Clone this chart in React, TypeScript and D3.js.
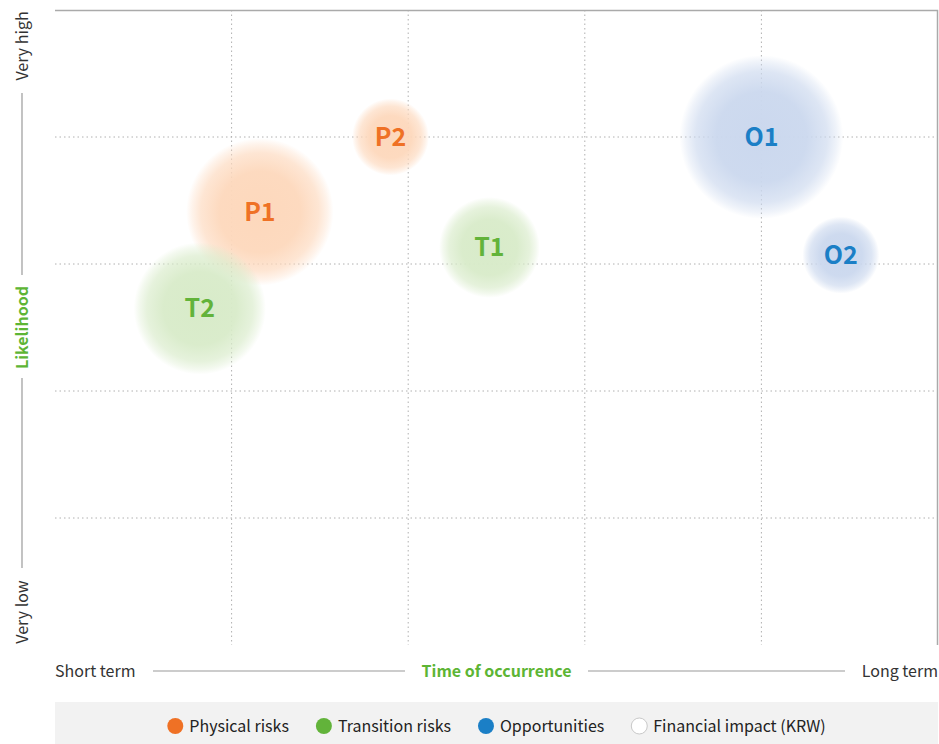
import React, { useEffect, useRef } from 'react'
import * as d3 from 'd3'

// Bubble data: position on the 0..5 grid, financial impact drives the radius
const names = ['P1', 'P2', 'T1', 'T2', 'O1', 'O2']
const groups = ['physical', 'physical', 'transition', 'transition', 'opportunity', 'opportunity']
const timeValues = [1.16, 1.9, 2.46, 0.82, 4.0, 4.45]
const likelihoodValues = [3.41, 4.0, 3.13, 2.65, 4.0, 3.07]
const impactValues = [77, 21, 36, 62, 95, 21]

const legendLabels = ['Physical risks', 'Transition risks', 'Opportunities', 'Financial impact (KRW)']
const gridTicks = [1, 2, 3, 4]

const palette: Record<string, { label: string; fill: string }> = {
  physical: { label: '#ef7125', fill: '#fdd8bc' },
  transition: { label: '#62b33a', fill: '#d8ebc9' },
  opportunity: { label: '#1b7fc6', fill: '#cbd8ee' },
}

const FONT = '"Noto Sans CJK KR", "Noto Sans", sans-serif'

export default function App() {
  const svgRef = useRef<SVGSVGElement>(null)

  useEffect(() => {
    if (!svgRef.current) return
    const width = 939
    const height = 744
    const plot = { left: 55, right: 938, top: 10, bottom: 645 }

    const x = d3.scaleLinear().domain([0, 5]).range([plot.left, plot.right])
    const y = d3.scaleLinear().domain([0, 5]).range([plot.bottom, plot.top])
    const r = d3.scaleSqrt().domain([0, 100]).range([0, 84])

    const svg = d3.select(svgRef.current)
      .attr('width', width)
      .attr('height', height)
      .style('font-family', FONT)
    svg.selectAll('*').remove()

    // gradients for the soft bubbles
    const defs = svg.append('defs')
    Object.entries(palette).forEach(([key, c]) => {
      const g = defs.append('radialGradient').attr('id', `grad-${key}`)
      g.append('stop').attr('offset', '0%').attr('stop-color', c.fill).attr('stop-opacity', 1)
      g.append('stop').attr('offset', '55%').attr('stop-color', c.fill).attr('stop-opacity', 0.95)
      g.append('stop').attr('offset', '80%').attr('stop-color', c.fill).attr('stop-opacity', 0.65)
      g.append('stop').attr('offset', '92%').attr('stop-color', c.fill).attr('stop-opacity', 0.3)
      g.append('stop').attr('offset', '100%').attr('stop-color', c.fill).attr('stop-opacity', 0)
    })

    // dotted grid
    svg.append('g').selectAll('line')
      .data(gridTicks).enter().append('line')
      .attr('x1', d => x(d)).attr('x2', d => x(d))
      .attr('y1', plot.top).attr('y2', plot.bottom)
      .attr('stroke', '#b0b0b0').attr('stroke-width', 1).attr('stroke-dasharray', '1.5,3')
    svg.append('g').selectAll('line')
      .data(gridTicks).enter().append('line')
      .attr('x1', plot.left).attr('x2', plot.right)
      .attr('y1', d => y(d)).attr('y2', d => y(d))
      .attr('stroke', '#b0b0b0').attr('stroke-width', 1).attr('stroke-dasharray', '1.5,3')

    // frame (top + right)
    svg.append('path')
      .attr('d', `M${plot.left},${plot.top + 0.5}H${plot.right - 0.5}V${plot.bottom}`)
      .attr('fill', 'none').attr('stroke', '#aaaaaa').attr('stroke-width', 1.5)

    // bubbles
    const bubbles = svg.append('g').selectAll('g')
      .data(names.map((n, i) => ({ name: n, group: groups[i], t: timeValues[i], l: likelihoodValues[i], v: impactValues[i] })))
      .enter().append('g')
      .attr('transform', d => `translate(${x(d.t)},${y(d.l)})`)
    bubbles.append('circle')
      .attr('r', d => r(d.v))
      .attr('fill', d => `url(#grad-${d.group})`)
    bubbles.append('text')
      .attr('text-anchor', 'middle')
      .attr('dy', '0.35em')
      .attr('fill', d => palette[d.group].label)
      .style('font-size', '25px')
      .style('font-weight', '700')
      .text(d => d.name)

    // y axis annotation
    const ax = 22
    const vAxis = svg.append('g')
    vAxis.append('text')
      .attr('transform', `translate(${ax + 6},${plot.top + 36}) rotate(-90)`)
      .attr('text-anchor', 'middle')
      .attr('fill', '#333').style('font-size', '16px')
      .text('Very high')
    vAxis.append('text')
      .attr('transform', `translate(${ax + 6},${(plot.top + plot.bottom) / 2}) rotate(-90)`)
      .attr('text-anchor', 'middle')
      .attr('fill', '#5db535').style('font-size', '16px').style('font-weight', '700')
      .text('Likelihood')
    vAxis.append('text')
      .attr('transform', `translate(${ax + 6},${plot.bottom - 33}) rotate(-90)`)
      .attr('text-anchor', 'middle')
      .attr('fill', '#333').style('font-size', '16px')
      .text('Very low')
    vAxis.append('line').attr('x1', ax).attr('x2', ax).attr('y1', 93).attr('y2', 275)
      .attr('stroke', '#9a9a9a').attr('stroke-width', 1.2)
    vAxis.append('line').attr('x1', ax).attr('x2', ax).attr('y1', 378).attr('y2', 568)
      .attr('stroke', '#9a9a9a').attr('stroke-width', 1.2)

    // x axis annotation
    const ay = 671
    const hAxis = svg.append('g')
    hAxis.append('text')
      .attr('x', plot.left).attr('y', ay).attr('dy', '0.35em')
      .attr('fill', '#333').style('font-size', '16px')
      .text('Short term')
    hAxis.append('text')
      .attr('x', (plot.left + plot.right) / 2).attr('y', ay).attr('dy', '0.35em')
      .attr('text-anchor', 'middle')
      .attr('fill', '#5db535').style('font-size', '16px').style('font-weight', '700')
      .text('Time of occurrence')
    hAxis.append('text')
      .attr('x', plot.right).attr('y', ay).attr('dy', '0.35em')
      .attr('text-anchor', 'end')
      .attr('fill', '#333').style('font-size', '16px')
      .text('Long term')
    hAxis.append('line').attr('x1', 153).attr('x2', 405).attr('y1', ay).attr('y2', ay)
      .attr('stroke', '#9a9a9a').attr('stroke-width', 1.2)
    hAxis.append('line').attr('x1', 588).attr('x2', 845).attr('y1', ay).attr('y2', ay)
      .attr('stroke', '#9a9a9a').attr('stroke-width', 1.2)

    // legend
    const legendY = 726
    svg.append('rect')
      .attr('x', plot.left).attr('y', 702)
      .attr('width', plot.right - plot.left).attr('height', height - 702)
      .attr('fill', '#f2f2f2')
    const legendColors = [palette.physical.label, palette.transition.label, palette.opportunity.label, '#ffffff']
    const legend = svg.append('g')
    const items = legend.selectAll('g').data(legendLabels).enter().append('g')
    items.append('circle')
      .attr('r', 8)
      .attr('cx', 8)
      .attr('cy', legendY)
      .attr('fill', (d, i) => legendColors[i])
      .attr('stroke', (d, i) => (i === 3 ? '#c8c8c8' : 'none'))
    items.append('text')
      .attr('x', 22).attr('y', legendY).attr('dy', '0.35em')
      .attr('fill', '#222').style('font-size', '16px')
      .text(d => d)
    let offset = 0
    const gap = 27
    items.each(function () {
      const g = d3.select(this)
      g.attr('transform', `translate(${offset},0)`)
      const tw = (g.select('text').node() as SVGTextElement).getComputedTextLength()
      offset += 22 + tw + gap
    })
    const total = offset - gap
    legend.attr('transform', `translate(${(plot.left + plot.right) / 2 - total / 2},0)`)
  }, [])

  return (
    <div style={{ position: 'fixed', left: 0, top: 0, width: 939, height: 744, background: '#fff', overflow: 'hidden' }}>
      <svg ref={svgRef} style={{ display: 'block' }}></svg>
    </div>
  )
}
